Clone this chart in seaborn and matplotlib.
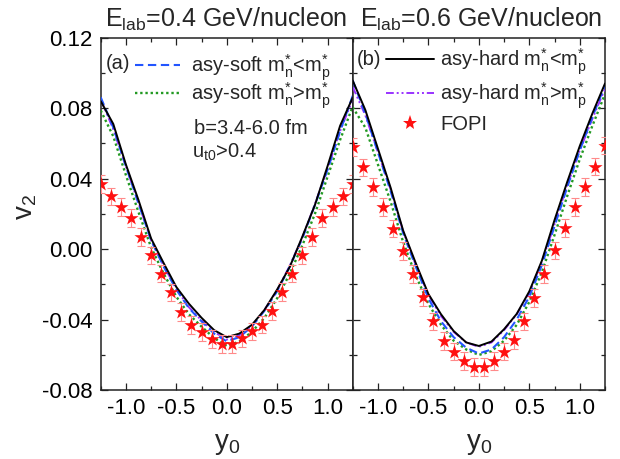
import numpy as np
import pandas as pd
import matplotlib
matplotlib.use("Agg")
import matplotlib.pyplot as plt
import seaborn as sns
from matplotlib.ticker import MultipleLocator, FormatStrFormatter
from matplotlib.lines import Line2D

# ---------------- data ----------------
y0_curve = [-1.25, -1.125, -1.0, -0.875, -0.75, -0.625, -0.5, -0.375, -0.25, -0.125, 0.0,
            0.125, 0.25, 0.375, 0.5, 0.625, 0.75, 0.875, 1.0, 1.125, 1.25]

# panel (a): E_lab = 0.4 GeV/nucleon
a_soft_lt = [0.0862, 0.069, 0.047, 0.026, 0.005, -0.010, -0.023, -0.0335, -0.041, -0.048, -0.0524,
             -0.050, -0.044, -0.035, -0.024, -0.010, 0.006, 0.025, 0.045, 0.067, 0.087]
a_soft_gt = [0.0787, 0.064, 0.042, 0.021, 0.001, -0.014, -0.027, -0.037, -0.044, -0.0505, -0.0550,
             -0.0525, -0.047, -0.039, -0.028, -0.014, 0.002, 0.020, 0.041, 0.062, 0.081]
a_hard_lt = [0.0840, 0.0710, 0.0480, 0.0278, 0.0060, -0.0080, -0.0215, -0.0310, -0.0390, -0.0460, -0.0500,
             -0.0480, -0.0430, -0.0345, -0.0230, -0.0102, 0.0070, 0.0250, 0.0470, 0.0700, 0.0860]
a_hard_gt = [0.0850, 0.068, 0.047, 0.026, 0.005, -0.0095, -0.0225, -0.033, -0.0405, -0.047, -0.0514,
             -0.049, -0.0435, -0.0345, -0.0235, -0.0095, 0.0065, 0.0255, 0.0455, 0.067, 0.0850]

# panel (b): E_lab = 0.6 GeV/nucleon
b_soft_lt = [0.0957, 0.077, 0.055, 0.033, 0.009, -0.010, -0.028, -0.041, -0.050, -0.056, -0.0593,
             -0.057, -0.050, -0.040, -0.027, -0.009, 0.013, 0.035, 0.056, 0.075, 0.093]
b_soft_gt = [0.0805, 0.069, 0.048, 0.027, 0.004, -0.015, -0.031, -0.043, -0.052, -0.057, -0.0601,
             -0.058, -0.052, -0.043, -0.030, -0.013, 0.008, 0.030, 0.051, 0.070, 0.088]
b_hard_lt = [0.0957, 0.079, 0.057, 0.035, 0.0105, -0.008, -0.0255, -0.037, -0.0465, -0.053, -0.055,
             -0.0525, -0.0455, -0.0368, -0.024, -0.0065, 0.0165, 0.038, 0.0585, 0.077, 0.094]
b_hard_gt = [0.092, 0.076, 0.055, 0.034, 0.010, -0.009, -0.026, -0.038, -0.047, -0.053, -0.0555,
             -0.053, -0.046, -0.037, -0.025, -0.007, 0.014, 0.036, 0.056, 0.074, 0.091]

# FOPI data
y0_fopi = [-1.25, -1.15, -1.05, -0.95, -0.85, -0.75, -0.65, -0.55, -0.45, -0.35, -0.25, -0.15, -0.05,
           0.05, 0.15, 0.25, 0.35, 0.45, 0.55, 0.65, 0.75, 0.85, 0.95, 1.05, 1.15, 1.25]
a_fopi = [0.0368, 0.0299, 0.0238, 0.0175, 0.0067, -0.0036, -0.0139, -0.0246, -0.0356, -0.0432, -0.0472,
          -0.0510, -0.0539, -0.0539, -0.0507, -0.0467, -0.0429, -0.0352, -0.0242, -0.0139, -0.0036,
          0.0067, 0.0175, 0.0238, 0.0299, 0.0368]
b_fopi = [0.058, 0.0464, 0.0354, 0.0240, 0.0116, -0.0011, -0.0141, -0.0274, -0.0411, -0.0521, -0.0582,
          -0.0635, -0.0669, -0.0669, -0.0635, -0.0582, -0.0517, -0.0411, -0.0278, -0.0141, -0.0008,
          0.0118, 0.0240, 0.0354, 0.0468, 0.0588]
fopi_err = [0.005] * 26

titles = [r"E$_\mathrm{lab}$=0.4 GeV/nucleon", r"E$_\mathrm{lab}$=0.6 GeV/nucleon"]
labels = {
    "soft_lt": r"asy-soft m$_\mathrm{n}^{*}$<m$_\mathrm{p}^{*}$",
    "soft_gt": r"asy-soft m$_\mathrm{n}^{*}$>m$_\mathrm{p}^{*}$",
    "hard_lt": r"asy-hard m$_\mathrm{n}^{*}$<m$_\mathrm{p}^{*}$",
    "hard_gt": r"asy-hard m$_\mathrm{n}^{*}$>m$_\mathrm{p}^{*}$",
    "fopi": "FOPI",
}

# ---------------- style ----------------
sns.set_theme(style="ticks")
plt.rcParams["font.family"] = ["Liberation Sans", "DejaVu Sans"]
plt.rcParams["mathtext.fontset"] = "custom"
plt.rcParams["mathtext.rm"] = "Liberation Sans"
plt.rcParams["mathtext.it"] = "Liberation Sans:italic"
plt.rcParams["mathtext.bf"] = "Liberation Sans:bold"
plt.rcParams["axes.unicode_minus"] = False

styles = {
    "hard_lt": dict(color="black", ls="-", lw=1.4),
    "soft_lt": dict(color="#2255ff", ls=(0, (4, 2.2)), lw=1.5),
    "hard_gt": dict(color="#9933ff", ls=(0, (4, 1.5, 1, 1.5, 1, 1.5)), lw=1.4),
    "soft_gt": dict(color="#229922", ls=(0, (1, 1.2)), lw=1.7),
}

fig = plt.figure(figsize=(6.2, 4.59), dpi=100)
W, H = 620.0, 459.0
ax1 = fig.add_axes([100.7 / W, 69 / H, 252 / W, 352.3 / H])
ax2 = fig.add_axes([352.7 / W, 69 / H, 252.3 / W, 352.3 / H])

panels = [
    (ax1, {"soft_lt": a_soft_lt, "soft_gt": a_soft_gt, "hard_lt": a_hard_lt, "hard_gt": a_hard_gt}, a_fopi),
    (ax2, {"soft_lt": b_soft_lt, "soft_gt": b_soft_gt, "hard_lt": b_hard_lt, "hard_gt": b_hard_gt}, b_fopi),
]

for ax, curves, fopi in panels:
    for key in ["soft_gt", "hard_gt", "soft_lt", "hard_lt"]:
        df = pd.DataFrame({"y0": y0_curve, "v2": curves[key]})
        st = styles[key]
        sns.lineplot(data=df, x="y0", y="v2", ax=ax, color=st["color"], linestyle=st["ls"],
                     linewidth=st["lw"], estimator=None, sort=True, zorder=3)
    ax.errorbar(y0_fopi, fopi, yerr=fopi_err, fmt="none", ecolor="#ff8a8a", elinewidth=0.8,
                capsize=3, capthick=0.8, zorder=4)
    dff = pd.DataFrame({"y0": y0_fopi, "v2": fopi})
    sns.scatterplot(data=dff, x="y0", y="v2", ax=ax, marker="*", s=115, color="#ff1010",
                    linewidth=0, zorder=5)

    ax.set_xlim(-1.25, 1.25)
    ax.set_ylim(-0.08, 0.12)
    ax.xaxis.set_major_locator(MultipleLocator(0.5))
    ax.xaxis.set_minor_locator(MultipleLocator(0.25))
    ax.yaxis.set_major_locator(MultipleLocator(0.04))
    ax.yaxis.set_minor_locator(MultipleLocator(0.02))
    ax.xaxis.set_major_formatter(FormatStrFormatter("%.1f"))
    ax.yaxis.set_major_formatter(FormatStrFormatter("%.2f"))
    ax.tick_params(which="both", direction="in", top=True, right=True, color="#222222",
                   width=0.9, labelsize=16, pad=6, labelcolor="black")
    ax.tick_params(which="major", length=5)
    ax.tick_params(which="minor", length=3)
    for sp in ax.spines.values():
        sp.set_linewidth(1.1)
        sp.set_color("#222222")
    ax.set_xlabel(r"y$_0$", fontsize=20)
    ax.set_ylabel("")
    ax.xaxis.set_label_coords(0.5, -0.115)

ax1.set_ylabel(r"v$_2$", fontsize=20)
ax1.yaxis.set_label_coords(-0.245, 0.52)
ax2.tick_params(labelleft=False)

# legends
h_a = [Line2D([], [], color=styles["soft_lt"]["color"], linestyle=styles["soft_lt"]["ls"],
              linewidth=styles["soft_lt"]["lw"]),
       Line2D([], [], color=styles["soft_gt"]["color"], linestyle=styles["soft_gt"]["ls"],
              linewidth=styles["soft_gt"]["lw"])]
leg1 = ax1.legend(h_a, [labels["soft_lt"], labels["soft_gt"]], loc="upper left",
                  bbox_to_anchor=(0.136, 0.959), frameon=False, borderpad=0, borderaxespad=0,
                  handlelength=2.25, handletextpad=0.55, labelspacing=-0.12, fontsize=14.5)

h_b = [Line2D([], [], color=styles["hard_lt"]["color"], linestyle=styles["hard_lt"]["ls"],
              linewidth=styles["hard_lt"]["lw"]),
       Line2D([], [], color=styles["hard_gt"]["color"], linestyle=styles["hard_gt"]["ls"],
              linewidth=styles["hard_gt"]["lw"]),
       Line2D([], [], color="#ff1010", marker="*", linestyle="none", markersize=11,
              markeredgewidth=0)]
leg2 = ax2.legend(h_b, [labels["hard_lt"], labels["hard_gt"], labels["fopi"]], loc="upper left",
                  bbox_to_anchor=(0.132, 0.976), frameon=False, borderpad=0, borderaxespad=0,
                  handlelength=2.4, handletextpad=0.3, labelspacing=0.18, fontsize=14.5)

ax1.text(0.021, 0.928, "(a)", transform=ax1.transAxes, fontsize=14.5, va="center", ha="left")
ax2.text(0.017, 0.937, "(b)", transform=ax2.transAxes, fontsize=14.5, va="center", ha="left")
ax1.text(0.370, 0.726, "b=3.4-6.0 fm", transform=ax1.transAxes, fontsize=14.5, va="baseline", ha="left")
ax1.text(0.361, 0.658, r"u$_\mathrm{t0}$>0.4", transform=ax1.transAxes, fontsize=14.5,
         va="baseline", ha="left")

fig.text(105 / W, 1 - 27 / H, titles[0], fontsize=18, va="baseline", ha="left")
fig.text(360 / W, 1 - 27 / H, titles[1], fontsize=18, va="baseline", ha="left")

fig.savefig("out.png", dpi=100)
